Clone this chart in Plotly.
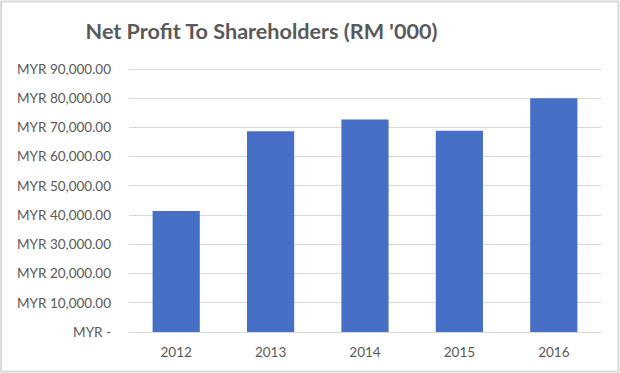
import plotly.graph_objects as go

years = ["2012", "2013", "2014", "2015", "2016"]
net_profit = [41400, 68700, 72700, 68900, 80000]
tick_values = [0, 10000, 20000, 30000, 40000, 50000, 60000, 70000, 80000, 90000]
tick_labels = ["MYR -", "MYR 10,000.00", "MYR 20,000.00", "MYR 30,000.00", "MYR 40,000.00",
               "MYR 50,000.00", "MYR 60,000.00", "MYR 70,000.00", "MYR 80,000.00", "MYR 90,000.00"]

W, H = 620, 373
ML, MR, MT, MB = 129, 18.5, 67.6, 40.7
pw = W - ML - MR
ph = H - MT - MB

fig = go.Figure(go.Bar(
    x=years, y=net_profit,
    marker=dict(color="#466fc5", line=dict(width=0)),
))

fig.update_layout(
    template="none",
    width=W, height=H,
    margin=dict(l=ML, r=MR, t=MT, b=MB, pad=0, autoexpand=False),
    paper_bgcolor="white", plot_bgcolor="white",
    bargap=0.5,
    showlegend=False,
    font=dict(family="Lato", color="#595959"),
    title=dict(text="<b>Net Profit To Shareholders (RM '000)</b>",
               x=261.5 / W, xref="container", xanchor="center",
               y=1 - 31 / H, yref="container", yanchor="middle",
               font=dict(size=21.6, color="#595959", family="Lato")),
    xaxis=dict(showgrid=False, showline=True, linecolor="#d9d9d9", linewidth=1,
               automargin=False,
               tickfont=dict(size=13.5, color="#595959"), ticks="", ticklabelstandoff=8),
    yaxis=dict(range=[0, 90350], tickvals=tick_values, ticktext=tick_labels,
               automargin=False,
               showgrid=True, gridcolor="#d9d9d9", gridwidth=1, zeroline=False,
               showline=False, ticks="", ticklabelstandoff=17,
               tickfont=dict(size=13.5, color="#595959")),
    shapes=[dict(type="rect", xref="paper", yref="paper",
                 x0=(1 - ML) / pw, x1=(W - 1 - ML) / pw,
                 y0=-(H - 1 - MT - ph) / ph, y1=1 + (MT - 1) / ph,
                 line=dict(color="#d9d9d9", width=2), layer="below")],
)

fig.write_html("out.html",
               config={"displayModeBar": False},
               post_script="document.body.style.margin='0';document.body.style.overflow='hidden';")
